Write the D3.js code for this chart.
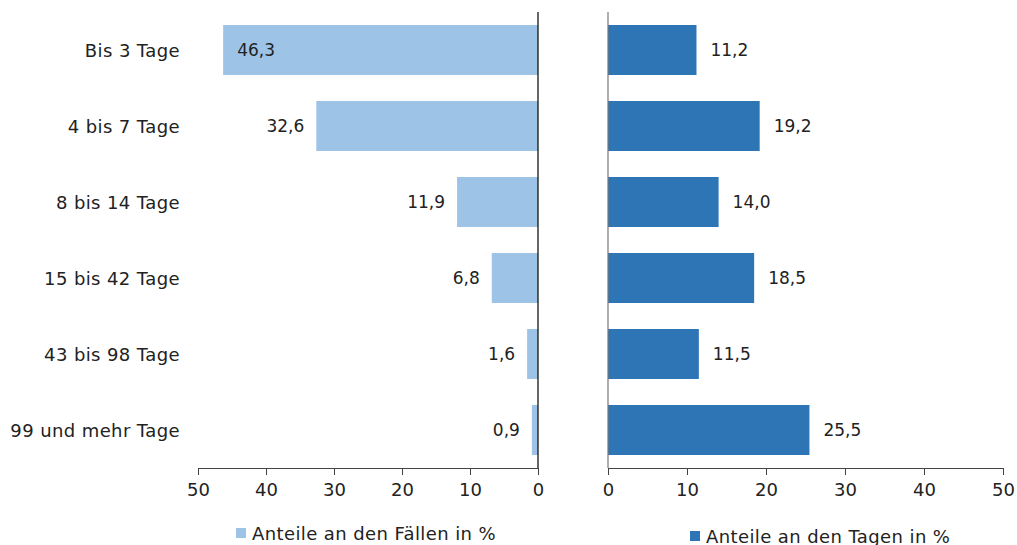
<!DOCTYPE html>
<html>
<head>
<meta charset="utf-8">
<script src="https://cdn.jsdelivr.net/npm/d3@7"></script>
<style>
  body { margin: 0; background: #fff; }
  svg text { font-family: "DejaVu Sans", sans-serif; fill: #222; }
</style>
</head>
<body>
<svg id="chart" width="1017" height="545"></svg>
<script>
"use strict";

const categories = ["Bis 3 Tage", "4 bis 7 Tage", "8 bis 14 Tage", "15 bis 42 Tage", "43 bis 98 Tage", "99 und mehr Tage"];
const faelle = [46.3, 32.6, 11.9, 6.8, 1.6, 0.9];
const tage = [11.2, 19.2, 14.0, 18.5, 11.5, 25.5];
const tick_values = [0, 10, 20, 30, 40, 50];
const legend_labels = ["Anteile an den Fällen in %", "Anteile an den Tagen in %"];

const col_light = "#9dc3e6",
  col_dark = "#2e75b6";

const fmt = v => d3.format(".1f")(v).replace(".", ",");

let svg = d3.select("#chart");

const chart_top = 12,
  chart_bottom = 468;

let y_scale = d3.scaleBand().domain(categories).range([chart_top, chart_bottom])
  .paddingInner(0.342).paddingOuter(0.171);

let xl = d3.scaleLinear().domain([0, 50]).range([538, 198]);
let xr = d3.scaleLinear().domain([0, 50]).range([608, 1003]);

let rows = categories.map((c, i) => ({ cat: c, f: faelle[i], t: tage[i] }));

// left bars
svg.append("g").selectAll("rect")
  .data(rows).enter().append("rect")
  .attr("x", d => xl(d.f))
  .attr("y", d => y_scale(d.cat))
  .attr("width", d => xl(0) - xl(d.f))
  .attr("height", y_scale.bandwidth())
  .attr("fill", col_light);

// right bars
svg.append("g").selectAll("rect")
  .data(rows).enter().append("rect")
  .attr("x", xr(0))
  .attr("y", d => y_scale(d.cat))
  .attr("width", d => xr(d.t) - xr(0))
  .attr("height", y_scale.bandwidth())
  .attr("fill", col_dark);

// value labels left (big bar gets its label inside)
svg.append("g").selectAll("text")
  .data(rows).enter().append("text")
  .attr("x", d => d.f > 40 ? xl(d.f) + 14 : xl(d.f) - 12)
  .attr("y", d => y_scale(d.cat) + y_scale.bandwidth() / 2)
  .attr("dominant-baseline", "central")
  .attr("text-anchor", d => d.f > 40 ? "start" : "end")
  .attr("font-size", 17)
  .text(d => fmt(d.f));

// value labels right
svg.append("g").selectAll("text")
  .data(rows).enter().append("text")
  .attr("x", d => xr(d.t) + 14)
  .attr("y", d => y_scale(d.cat) + y_scale.bandwidth() / 2)
  .attr("dominant-baseline", "central")
  .attr("font-size", 17)
  .text(d => fmt(d.t));

// category labels
svg.append("g").selectAll("text")
  .data(categories).enter().append("text")
  .attr("x", 180)
  .attr("y", d => y_scale(d) + y_scale.bandwidth() / 2)
  .attr("dominant-baseline", "central")
  .attr("text-anchor", "end")
  .attr("font-size", 18)
  .attr("letter-spacing", 0.4)
  .text(d => d);

// vertical axis lines
svg.append("line")
  .attr("x1", xl(0)).attr("x2", xl(0))
  .attr("y1", chart_top).attr("y2", chart_bottom)
  .attr("stroke", "#000").attr("stroke-width", 1.2);
svg.append("line")
  .attr("x1", xr(0)).attr("x2", xr(0))
  .attr("y1", chart_top).attr("y2", chart_bottom)
  .attr("stroke", "#777").attr("stroke-width", 1.2);

// bottom axes
const style_axis = g => {
  g.select(".domain").attr("stroke", "#444");
  g.selectAll(".tick line").attr("stroke", "#444");
  g.selectAll(".tick text").attr("font-size", 18).attr("fill", "#222")
    .attr("font-family", "DejaVu Sans, sans-serif");
};

svg.append("g")
  .attr("transform", "translate(0," + chart_bottom + ")")
  .call(d3.axisBottom(xl).tickValues(tick_values).tickSize(7).tickSizeOuter(0).tickPadding(8))
  .call(style_axis);

svg.append("g")
  .attr("transform", "translate(0," + chart_bottom + ")")
  .call(d3.axisBottom(xr).tickValues(tick_values).tickSize(7).tickSizeOuter(0).tickPadding(8))
  .call(style_axis);

// legends
const legend_pos = [[236, 533], [690, 536]];
const legend_cols = [col_light, col_dark];
legend_labels.forEach((l, i) => {
  let g = svg.append("g").attr("transform", "translate(" + legend_pos[i][0] + "," + legend_pos[i][1] + ")");
  g.append("rect").attr("x", 0).attr("y", -5).attr("width", 10).attr("height", 10).attr("fill", legend_cols[i]);
  g.append("text").attr("x", 16).attr("y", 0).attr("dominant-baseline", "central")
    .attr("font-size", 18).attr("letter-spacing", 0.4).text(l);
});
</script>
</body>
</html>
